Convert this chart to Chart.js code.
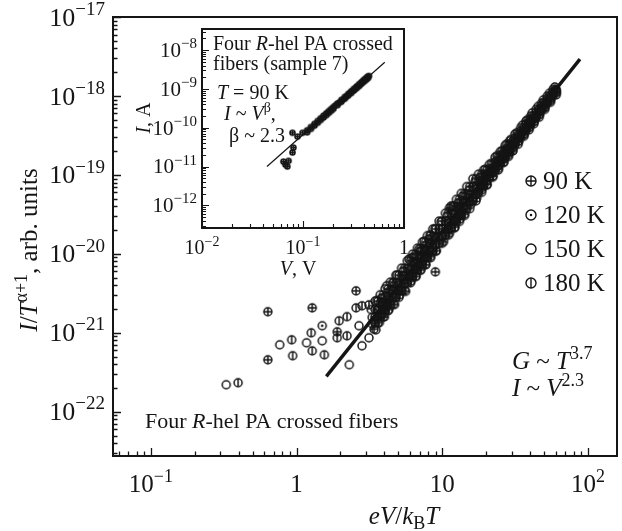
<!DOCTYPE html>
<html>
<head>
<meta charset="utf-8">
<script src="https://cdn.jsdelivr.net/npm/chart.js@4.4.1/dist/chart.umd.min.js"></script>
<style>
    html, body { margin: 0; padding: 0; background: #fff; }
    #wrap { position: relative; width: 622px; height: 531px; }
    #main { position: absolute; left: 0; top: 0; }
    #inset { position: absolute; left: 120px; top: 0; }
</style>
</head>
<body>
<div id="wrap">
    <canvas id="main" width="622" height="531"></canvas>
    <canvas id="inset" width="310" height="285"></canvas>
</div>
<script>
// ============================================================================
// data: I/T^(a+1) vs eV/kBT (main) and I vs V (inset)
// ============================================================================

const tempLabels = ['90 K', '120 K', '150 K', '180 K'];

// [eV/kBT, I/T^(a+1)]
const k90 = [
    [0.635, 1.85e-21], [0.635, 4.55e-22], [1.28, 2.07e-21], [1.90, 1.03e-21], [2.56, 3.40e-21],
    [8.96, 5.91e-21], [11.2, 3.82e-20],
    [3.4, 1.11e-21], [3.7, 1.35e-21], [4.0, 1.59e-21], [4.3, 1.97e-21], [4.7, 2.28e-21],
    [5.1, 3.03e-21], [5.6, 3.35e-21], [6.1, 4.50e-21], [6.6, 5.18e-21], [7.1, 6.28e-21],
    [7.7, 7.26e-21], [8.3, 9.27e-21], [9.1, 1.10e-20], [10.2, 1.43e-20], [11.2, 1.82e-20],
    [12.2, 2.18e-20], [13.2, 2.75e-20], [14.2, 3.18e-20], [15.7, 4.22e-20], [17.2, 5.09e-20],
    [18.7, 6.50e-20], [20.3, 7.60e-20], [22.3, 9.68e-20], [24.3, 1.21e-19], [26.4, 1.46e-19],
    [28.4, 1.77e-19], [30.4, 2.08e-19], [33.5, 2.66e-19], [36.5, 3.24e-19], [39.5, 3.99e-19],
    [42.6, 4.73e-19], [46.6, 5.85e-19], [50.6, 7.26e-19], [55.5, 9.02e-19], [60.5, 1.13e-18],
    [3.45, 1.32e-21], [3.75, 1.59e-21], [4.05, 1.90e-21], [4.4, 2.30e-21], [4.8, 2.81e-21],
    [5.25, 3.46e-21], [5.75, 4.29e-21], [6.25, 5.19e-21], [6.75, 6.18e-21], [7.3, 7.41e-21],
    [7.9, 8.91e-21], [8.6, 1.08e-20], [9.5, 1.36e-20], [10.5, 1.72e-20], [11.5, 2.12e-20],
    [12.5, 2.57e-20], [13.5, 3.06e-20], [14.7, 3.73e-20], [16.2, 4.69e-20], [17.7, 6.01e-20],
    [19.2, 7.41e-20], [21, 9.33e-20], [23, 1.15e-19], [25, 1.43e-19], [27, 1.71e-19],
    [29, 2.01e-19], [31.5, 2.44e-19], [34.5, 3.08e-19], [37.5, 3.73e-19], [40.5, 4.45e-19],
    [44, 5.38e-19], [48, 6.75e-19], [52.5, 8.30e-19], [57.5, 1.03e-18],
    [3.62, 2.51e-21], [3.94, 3.03e-21], [4.25, 3.61e-21], [4.62, 4.38e-21], [5.04, 5.36e-21],
    [5.51, 6.59e-21], [6.04, 8.17e-21], [6.56, 9.89e-21], [7.09, 1.18e-20], [7.67, 1.41e-20],
    [8.3, 1.70e-20], [9.03, 2.06e-20], [9.98, 2.60e-20], [11.0, 3.27e-20], [12.1, 4.05e-20],
    [13.1, 4.90e-20], [14.2, 5.83e-20], [15.4, 7.11e-20], [17.0, 8.93e-20], [18.6, 1.02e-19],
    [20.2, 1.15e-19], [22.1, 1.35e-19], [24.2, 1.67e-19], [26.3, 1.97e-19], [28.4, 2.36e-19],
    [30.5, 2.71e-19], [33.1, 3.29e-19], [36.2, 3.97e-19], [39.4, 4.81e-19], [42.5, 5.60e-19],
    [46.2, 6.78e-19], [50.4, 8.11e-19], [55.1, 9.98e-19], [60.4, 1.21e-18]
];
const k120 = [
    [1.50, 1.23e-21],
    [3.3, 1.57e-21], [3.6, 1.91e-21], [3.9, 2.40e-21], [4.2, 2.60e-21], [4.6, 3.44e-21],
    [5.0, 3.99e-21], [5.5, 5.31e-21], [6.0, 6.21e-21], [6.5, 7.66e-21], [7.0, 8.67e-21],
    [7.6, 1.07e-20], [8.2, 1.34e-20], [9.0, 1.58e-20], [10, 2.07e-20], [11, 2.46e-20],
    [12, 3.16e-20], [13, 3.71e-20], [14, 4.50e-20], [15.5, 5.56e-20], [17, 6.71e-20],
    [18.5, 8.57e-20], [20, 1.00e-19], [22, 1.22e-19], [24, 1.53e-19], [26, 1.84e-19],
    [28, 2.13e-19], [30, 2.56e-19], [33, 3.13e-19], [36, 3.89e-19], [39, 4.58e-19],
    [42, 5.56e-19], [46, 6.71e-19], [50, 8.34e-19], [55, 1.01e-18], [60, 1.21e-18],
    [3.45, 1.99e-21], [3.75, 2.41e-21], [4.05, 2.87e-21], [4.4, 3.48e-21], [4.8, 4.26e-21],
    [5.25, 5.24e-21], [5.75, 6.49e-21], [6.25, 7.85e-21], [6.75, 9.35e-21], [7.3, 1.12e-20],
    [7.9, 1.35e-20], [8.6, 1.64e-20], [9.5, 2.07e-20], [10.5, 2.60e-20], [11.5, 3.21e-20],
    [12.5, 3.89e-20], [13.5, 4.63e-20], [14.7, 5.65e-20], [16.2, 7.10e-20], [17.7, 8.30e-20],
    [19.2, 9.77e-20], [21, 1.17e-19], [23, 1.45e-19], [25, 1.76e-19], [27, 2.10e-19],
    [29, 2.42e-19], [31.5, 2.93e-19], [34.5, 3.62e-19], [37.5, 4.39e-19], [40.5, 5.11e-19],
    [44, 6.18e-19], [48, 7.57e-19], [52.5, 9.31e-19], [57.5, 1.13e-18],
    [3.62, 1.58e-21], [3.94, 1.91e-21], [4.25, 2.28e-21], [4.62, 2.76e-21], [5.04, 3.38e-21],
    [5.51, 4.16e-21], [6.04, 5.15e-21], [6.56, 6.24e-21], [7.09, 7.43e-21], [7.67, 8.91e-21],
    [8.3, 1.07e-20], [9.03, 1.30e-20], [9.98, 1.64e-20], [11.0, 2.07e-20], [12.1, 2.55e-20],
    [13.1, 3.09e-20], [14.2, 3.68e-20], [15.4, 4.49e-20], [17.0, 5.64e-20], [18.6, 6.90e-20],
    [20.2, 8.32e-20], [22.1, 1.05e-19], [24.2, 1.29e-19], [26.3, 1.57e-19], [28.4, 1.87e-19],
    [30.5, 2.20e-19], [33.1, 2.67e-19], [36.2, 3.30e-19], [39.4, 4.00e-19], [42.5, 4.76e-19],
    [46.2, 5.77e-19], [50.4, 7.06e-19], [55.1, 8.69e-19], [60.4, 1.08e-18]
];
const k150 = [
    [0.329, 2.20e-22], [0.766, 7.05e-22], [1.17, 7.47e-22], [1.50, 7.92e-22], [2.30, 3.94e-22],
    [2.68, 1.23e-21], [2.81, 6.84e-22], [3.14, 8.65e-22], [3.50, 1.09e-21], [3.56, 1.95e-21],
    [3.85, 1.69e-21], [6.15, 8.90e-21], [7.08, 1.09e-20], [8.28, 1.74e-20],
    [3.25, 1.97e-21], [3.55, 2.57e-21], [3.85, 2.76e-21], [4.15, 3.94e-21], [4.55, 4.24e-21],
    [4.9, 5.38e-21], [5.4, 6.10e-21], [5.9, 8.57e-21], [6.4, 9.20e-21], [6.9, 1.14e-20],
    [7.5, 1.45e-20], [8.1, 1.54e-20], [8.9, 2.09e-20], [9.8, 2.55e-20], [10.8, 3.03e-20],
    [11.8, 3.97e-20], [12.8, 4.36e-20], [13.8, 5.41e-20], [15.3, 6.38e-20], [16.8, 8.26e-20],
    [18.3, 9.40e-20], [19.7, 1.18e-19], [21.7, 1.40e-19], [23.7, 1.75e-19], [25.6, 2.02e-19],
    [27.6, 2.45e-19], [29.6, 2.81e-19], [32.5, 3.43e-19], [35.5, 4.27e-19], [38.5, 5.02e-19],
    [41.4, 6.10e-19], [45.4, 7.36e-19], [49.4, 8.93e-19], [54.3, 1.08e-18], [59.2, 1.30e-18],
    [3.45, 2.51e-21], [3.75, 3.03e-21], [4.05, 3.61e-21], [4.4, 4.38e-21], [4.8, 5.36e-21],
    [5.25, 6.59e-21], [5.75, 8.17e-21], [6.25, 9.89e-21], [6.75, 1.18e-20], [7.3, 1.41e-20],
    [7.9, 1.70e-20], [8.6, 2.06e-20], [9.5, 2.60e-20], [10.5, 3.27e-20], [11.5, 4.05e-20],
    [12.5, 4.90e-20], [13.5, 5.83e-20], [14.7, 7.11e-20], [16.2, 8.93e-20], [17.7, 1.02e-19],
    [19.2, 1.15e-19], [21, 1.35e-19], [23, 1.67e-19], [25, 1.97e-19], [27, 2.36e-19],
    [29, 2.71e-19], [31.5, 3.29e-19], [34.5, 3.97e-19], [37.5, 4.81e-19], [40.5, 5.60e-19],
    [44, 6.78e-19], [48, 8.11e-19], [52.5, 9.98e-19], [57.5, 1.21e-18],
    [3.62, 1.99e-21], [3.94, 2.41e-21], [4.25, 2.87e-21], [4.62, 3.48e-21], [5.04, 4.26e-21],
    [5.51, 5.24e-21], [6.04, 6.49e-21], [6.56, 7.85e-21], [7.09, 9.35e-21], [7.67, 1.12e-20],
    [8.3, 1.35e-20], [9.03, 1.64e-20], [9.98, 2.07e-20], [11.0, 2.60e-20], [12.1, 3.21e-20],
    [13.1, 3.89e-20], [14.2, 4.63e-20], [15.4, 5.65e-20], [17.0, 7.10e-20], [18.6, 8.30e-20],
    [20.2, 9.77e-20], [22.1, 1.17e-19], [24.2, 1.45e-19], [26.3, 1.76e-19], [28.4, 2.10e-19],
    [30.5, 2.42e-19], [33.1, 2.93e-19], [36.2, 3.62e-19], [39.4, 4.39e-19], [42.5, 5.11e-19],
    [46.2, 6.18e-19], [50.4, 7.57e-19], [55.1, 9.31e-19], [60.4, 1.13e-18]
];
const k180 = [
    [0.397, 2.33e-22], [0.925, 8.15e-22], [0.94, 5.12e-22], [1.26, 1.00e-21], [1.28, 5.91e-22],
    [1.55, 5.27e-22], [1.90, 8.65e-22], [1.96, 1.42e-21], [2.22, 1.60e-21], [2.22, 9.16e-22],
    [2.56, 2.07e-21], [2.81, 2.20e-21], [3.14, 2.26e-21],
    [3.3, 1.30e-21], [3.6, 1.58e-21], [3.9, 1.95e-21], [4.2, 2.21e-21], [4.6, 2.80e-21],
    [5.0, 3.48e-21], [5.5, 4.12e-21], [6.0, 5.16e-21], [6.5, 6.37e-21], [7.0, 7.21e-21],
    [7.6, 8.93e-21], [8.2, 1.09e-20], [9.0, 1.32e-20], [10, 1.68e-20], [11, 2.05e-20],
    [12, 2.62e-20], [13, 3.08e-20], [14, 3.83e-20], [15.5, 4.73e-20], [17, 5.71e-20],
    [18.5, 7.29e-20], [20, 8.53e-20], [22, 1.09e-19], [24, 1.30e-19], [26, 1.64e-19],
    [28, 1.90e-19], [30, 2.28e-19], [33, 2.85e-19], [36, 3.55e-19], [39, 4.18e-19],
    [42, 5.07e-19], [46, 6.27e-19], [50, 7.60e-19], [55, 9.44e-19], [60, 1.16e-18],
    [3.45, 1.58e-21], [3.75, 1.91e-21], [4.05, 2.28e-21], [4.4, 2.76e-21], [4.8, 3.38e-21],
    [5.25, 4.16e-21], [5.75, 5.15e-21], [6.25, 6.24e-21], [6.75, 7.43e-21], [7.3, 8.91e-21],
    [7.9, 1.07e-20], [8.6, 1.30e-20], [9.5, 1.64e-20], [10.5, 2.07e-20], [11.5, 2.55e-20],
    [12.5, 3.09e-20], [13.5, 3.68e-20], [14.7, 4.49e-20], [16.2, 5.64e-20], [17.7, 6.90e-20],
    [19.2, 8.32e-20], [21, 1.05e-19], [23, 1.29e-19], [25, 1.57e-19], [27, 1.87e-19],
    [29, 2.20e-19], [31.5, 2.67e-19], [34.5, 3.30e-19], [37.5, 4.00e-19], [40.5, 4.76e-19],
    [44, 5.77e-19], [48, 7.06e-19], [52.5, 8.69e-19], [57.5, 1.08e-18],
    [3.62, 1.32e-21], [3.94, 1.59e-21], [4.25, 1.90e-21], [4.62, 2.30e-21], [5.04, 2.81e-21],
    [5.51, 3.46e-21], [6.04, 4.29e-21], [6.56, 5.19e-21], [7.09, 6.18e-21], [7.67, 7.41e-21],
    [8.3, 8.91e-21], [9.03, 1.08e-20], [9.98, 1.36e-20], [11.0, 1.72e-20], [12.1, 2.12e-20],
    [13.1, 2.57e-20], [14.2, 3.06e-20], [15.4, 3.73e-20], [17.0, 4.69e-20], [18.6, 6.01e-20],
    [20.2, 7.41e-20], [22.1, 9.33e-20], [24.2, 1.15e-19], [26.3, 1.43e-19], [28.4, 1.71e-19],
    [30.5, 2.01e-19], [33.1, 2.44e-19], [36.2, 3.08e-19], [39.4, 3.73e-19], [42.5, 4.45e-19],
    [46.2, 5.38e-19], [50.4, 6.75e-19], [55.1, 8.30e-19], [60.4, 1.03e-18]
];
const fitMain = [[1.6, 2.8e-22], [88, 2.93e-18]];

// inset: sample 7 at T = 90 K, [V, I]
const sample7 = [
    [0.064, 1.34e-11], [0.067, 1.12e-11], [0.070, 1.0e-11], [0.072, 1.4e-11], [0.0787, 2.29e-11],
    [0.0804, 3.07e-11], [0.0787, 7.4e-11], [0.0883, 5.9e-11], [0.099, 7.4e-11],
    [0.11, 8.6e-11], [0.11, 7.6e-11], [0.12, 1.05e-10], [0.12, 9.3e-11], [0.13, 1.26e-10],
    [0.13, 1.13e-10], [0.14, 1.50e-10], [0.14, 1.34e-10], [0.15, 1.76e-10], [0.15, 1.58e-10],
    [0.16, 2.05e-10], [0.16, 1.83e-10], [0.17, 2.35e-10], [0.17, 2.10e-10], [0.18, 2.68e-10],
    [0.18, 2.40e-10], [0.19, 3.04e-10], [0.19, 2.72e-10], [0.20, 3.42e-10], [0.20, 3.06e-10],
    [0.21, 3.8e-10], [0.22, 4.25e-10], [0.22, 3.81e-10], [0.23, 4.5e-10], [0.24, 5.2e-10],
    [0.24, 4.66e-10], [0.25, 5.4e-10], [0.26, 6.27e-10], [0.26, 5.6e-10], [0.27, 6.4e-10],
    [0.28, 7.4e-10], [0.28, 6.7e-10], [0.29, 7.7e-10], [0.30, 8.7e-10], [0.30, 7.8e-10],
    [0.31, 8.9e-10], [0.32, 1.01e-9], [0.32, 9.1e-10], [0.33, 1.03e-9], [0.34, 1.16e-9],
    [0.34, 1.04e-9], [0.35, 1.17e-9], [0.36, 1.33e-9], [0.36, 1.19e-9], [0.37, 1.34e-9],
    [0.38, 1.5e-9], [0.38, 1.36e-9], [0.39, 1.52e-9], [0.40, 1.70e-9], [0.40, 1.53e-9],
    [0.41, 1.70e-9], [0.42, 1.89e-9], [0.42, 1.71e-9], [0.43, 1.9e-9], [0.44, 2.1e-9],
    [0.44, 1.9e-9], [0.45, 2.15e-9]
];
const fitInset = [[0.044, 1.0e-11], [0.645, 4.86e-9]];

// axis ranges and labelled ticks
const mainXRange = [0.055, 158];
const mainYRange = [2.75e-23, 1e-17];
const mainXTicks = [0.1, 1, 10, 100];
const mainYTicks = [1e-22, 1e-21, 1e-20, 1e-19, 1e-18, 1e-17];
const insetXRange = [0.01, 1];
const insetYRange = [2.6e-13, 3.5e-8];
const insetXTicks = [0.01, 0.1, 1];
const insetYTicks = [1e-12, 1e-11, 1e-10, 1e-9, 1e-8];

// ============================================================================
// drawing helpers
// ============================================================================

const SERIF = '"Liberation Serif", "Times New Roman", serif';
const INK = '#151515';
const SUP = 0.72;

function fontStr(size, italic) {
    return (italic ? 'italic ' : '') + size + 'px ' + SERIF;
}

// parts: 'text' or ['text', style], style in '', 'i', 'sup', 'isup', 'sub'
function drawRich(ctx, parts, x, y, size, align) {
    let w = 0;
    const items = parts.map(p => {
        const [t, st] = Array.isArray(p) ? p : [p, ''];
        const small = st.includes('sup') || st.includes('sub');
        const fs = small ? Math.round(size * SUP) : size;
        const italic = st === 'i' || st === 'isup';
        ctx.font = fontStr(fs, italic);
        const item = {
            t, fs, italic, x: w,
            dy: st.includes('sup') ? -size * 0.42 : (st === 'sub' ? size * 0.2 : 0)
        };
        w += ctx.measureText(t).width;
        return item;
    });
    const x0 = align === 'center' ? x - w / 2 : (align === 'right' ? x - w : x);
    ctx.textAlign = 'left';
    ctx.textBaseline = 'alphabetic';
    items.forEach(it => {
        ctx.font = fontStr(it.fs, it.italic);
        ctx.fillText(it.t, x0 + it.x, y + it.dy);
    });
}

function drawRotated(ctx, parts, x, y, size) {
    ctx.save();
    ctx.translate(x, y);
    ctx.rotate(-Math.PI / 2);
    drawRich(ctx, parts, 0, 0, size, 'center');
    ctx.restore();
}

function tickParts(v) {
    const e = Math.round(Math.log10(v));
    if (e === 0) return ['1'];
    if (e === 1) return ['10'];
    return ['10', [String(e).replace('-', '\u2212'), 'sup']];
}

// decade and 2..9 tick positions inside [min, max]
function logTicks(min, max) {
    const out = [];
    for (let e = Math.floor(Math.log10(min)); e <= Math.ceil(Math.log10(max)); e++) {
        for (let m = 1; m <= 9; m++) {
            const v = m * Math.pow(10, e);
            if (v >= min * 0.999 && v <= max * 1.001) out.push([v, m === 1]);
        }
    }
    return out;
}

function makeMarker(kind, d, lw) {
    const c = document.createElement('canvas');
    const s = Math.ceil(d + lw + 2);
    c.width = s;
    c.height = s;
    const g = c.getContext('2d');
    const m = s / 2, r = d / 2;
    g.strokeStyle = INK;
    g.fillStyle = INK;
    g.lineWidth = lw;
    g.beginPath();
    g.arc(m, m, r, 0, Math.PI * 2);
    g.stroke();
    g.beginPath();
    if (kind === 'plus') {
        g.moveTo(m - r, m); g.lineTo(m + r, m);
        g.moveTo(m, m - r); g.lineTo(m, m + r);
        g.stroke();
    } else if (kind === 'bar') {
        g.moveTo(m, m - r); g.lineTo(m, m + r);
        g.stroke();
    } else if (kind === 'dot') {
        g.arc(m, m, lw * 0.9, 0, Math.PI * 2);
        g.fill();
    }
    return c;
}

const markerKinds = ['plus', 'dot', 'ring', 'bar'];
const mainMarkers = markerKinds.map(k => makeMarker(k, 8, 1.5));
const legendMarkers = markerKinds.map(k => makeMarker(k, 10, 1.4));
const insetMarker = makeMarker('plus', 5, 1.6);

// frame, inward log ticks and superscripted decade labels
function axisFrame(cfg) {
    return {
        id: 'axisFrame',
        beforeDatasetsDraw(chart) {
            const { ctx, chartArea: a } = chart;
            if (cfg.fillArea) {
                ctx.save();
                ctx.fillStyle = '#fff';
                ctx.fillRect(a.left, a.top, a.right - a.left, a.bottom - a.top);
                ctx.restore();
            }
        },
        afterDatasetsDraw(chart) {
            const { ctx, chartArea: a, scales: { x, y } } = chart;
            ctx.save();
            ctx.strokeStyle = INK;
            ctx.fillStyle = INK;
            ctx.lineWidth = cfg.frameWidth;
            ctx.strokeRect(a.left, a.top, a.right - a.left, a.bottom - a.top);

            ctx.lineWidth = cfg.tickWidth;
            ctx.beginPath();
            logTicks(x.min, x.max).forEach(([v, major]) => {
                const px = Math.round(x.getPixelForValue(v)) + 0.5;
                ctx.moveTo(px, a.bottom);
                ctx.lineTo(px, a.bottom - (major ? cfg.major : cfg.minor));
            });
            logTicks(y.min, y.max).forEach(([v, major]) => {
                const py = Math.round(y.getPixelForValue(v)) + 0.5;
                ctx.moveTo(a.left, py);
                ctx.lineTo(a.left + (major ? cfg.major : cfg.minor), py);
            });
            ctx.stroke();

            cfg.xTicks.forEach(v => drawRich(ctx, tickParts(v), x.getPixelForValue(v),
                a.bottom + cfg.xLabelDy, cfg.tickFont, 'center'));
            cfg.yTicks.forEach(v => drawRich(ctx, tickParts(v), a.left - cfg.yLabelDx,
                y.getPixelForValue(v) + cfg.yTickFont * 0.33, cfg.yTickFont, 'right'));

            if (cfg.extra) cfg.extra(ctx, a);
            ctx.restore();
        }
    };
}

const toPts = arr => arr.map(([x, y]) => ({ x, y }));

function scatterSet(label, arr, marker) {
    return {
        label, data: toPts(arr),
        pointStyle: marker, pointRadius: 4, pointHoverRadius: 4,
        borderColor: INK, backgroundColor: 'rgba(0,0,0,0)', showLine: false
    };
}

function fitSet(arr, width) {
    return {
        type: 'line', label: 'fit', data: toPts(arr),
        borderColor: INK, borderWidth: width, pointRadius: 0, tension: 0, order: 10
    };
}

// ============================================================================
// main chart
// ============================================================================

const mainSeries = [k90, k120, k150, k180];

new Chart(document.getElementById('main'), {
    type: 'scatter',
    data: {
        datasets: [
            fitSet(fitMain, 3.4),
            ...mainSeries.map((s, i) => scatterSet(tempLabels[i], s, mainMarkers[i]))
        ]
    },
    options: {
        responsive: false,
        animation: false,
        layout: { padding: { left: 113, top: 17, right: 2, bottom: 75 } },
        plugins: { legend: { display: false }, tooltip: { enabled: false } },
        scales: {
            x: { type: 'logarithmic', min: mainXRange[0], max: mainXRange[1], display: false },
            y: { type: 'logarithmic', min: mainYRange[0], max: mainYRange[1], display: false }
        }
    },
    plugins: [axisFrame({
        frameWidth: 2, tickWidth: 1.3, major: 8, minor: 4.5,
        tickFont: 25, yTickFont: 26, xLabelDy: 36, yLabelDx: 8,
        xTicks: mainXTicks, yTicks: mainYTicks,
        extra(ctx, a) {
            // legend
            tempLabels.forEach((lab, i) => {
                const cy = 181 + i * 34;
                const mk = legendMarkers[i];
                ctx.drawImage(mk, 531 - mk.width / 2, cy - mk.height / 2);
                drawRich(ctx, [lab], 543, cy + 8, 25, 'left');
            });
            // annotations
            drawRich(ctx, [['G', 'i'], ' ~ ', ['T', 'i'], ['3.7', 'sup']], 512, 369, 25, 'left');
            drawRich(ctx, [['I', 'i'], ' ~ ', ['V', 'i'], ['2.3', 'sup']], 512, 396, 25, 'left');
            drawRich(ctx, ['Four ', ['R', 'i'], '-hel PA crossed fibers'], 145, 428, 22, 'left');
            // axis titles
            drawRich(ctx, [['eV', 'i'], '/', ['k', 'i'], ['B', 'sub'], ['T', 'i']], 404, 524, 25, 'center');
            drawRotated(ctx, [['I', 'i'], '/', ['T', 'i'], ['\u03b1+1', 'sup'], ', arb. units'], 37, 250, 25);
        }
    })]
});

// ============================================================================
// inset chart
// ============================================================================

new Chart(document.getElementById('inset'), {
    type: 'scatter',
    data: {
        datasets: [
            fitSet(fitInset, 1.2),
            scatterSet('90 K', sample7, insetMarker)
        ]
    },
    options: {
        responsive: false,
        animation: false,
        layout: { padding: { left: 82, top: 29, right: 26, bottom: 57 } },
        plugins: { legend: { display: false }, tooltip: { enabled: false } },
        scales: {
            x: { type: 'logarithmic', min: insetXRange[0], max: insetXRange[1], display: false },
            y: { type: 'logarithmic', min: insetYRange[0], max: insetYRange[1], display: false }
        }
    },
    plugins: [axisFrame({
        fillArea: true,
        frameWidth: 2, tickWidth: 1.1, major: 7, minor: 4,
        tickFont: 20, yTickFont: 21, xLabelDy: 26, yLabelDx: 5,
        xTicks: insetXTicks, yTicks: insetYTicks,
        extra(ctx, a) {
            drawRich(ctx, ['Four ', ['R', 'i'], '-hel PA crossed'], 93, 50, 20, 'left');
            drawRich(ctx, ['fibers (sample 7)'], 93, 70, 20, 'left');
            drawRich(ctx, [['T', 'i'], ' = 90 K'], 97, 99, 20, 'left');
            drawRich(ctx, [['I', 'i'], ' ~ ', ['V', 'i'], ['\u03b2', 'sup'], ','], 104, 120, 20, 'left');
            drawRich(ctx, ['\u03b2 ~ 2.3'], 109, 142, 20, 'left');
            drawRich(ctx, [['V', 'i'], ', V'], 178, 275, 20, 'center');
            drawRotated(ctx, [['I', 'i'], ', A'], 30, 118, 20);
        }
    })]
});
</script>
</body>
</html>
